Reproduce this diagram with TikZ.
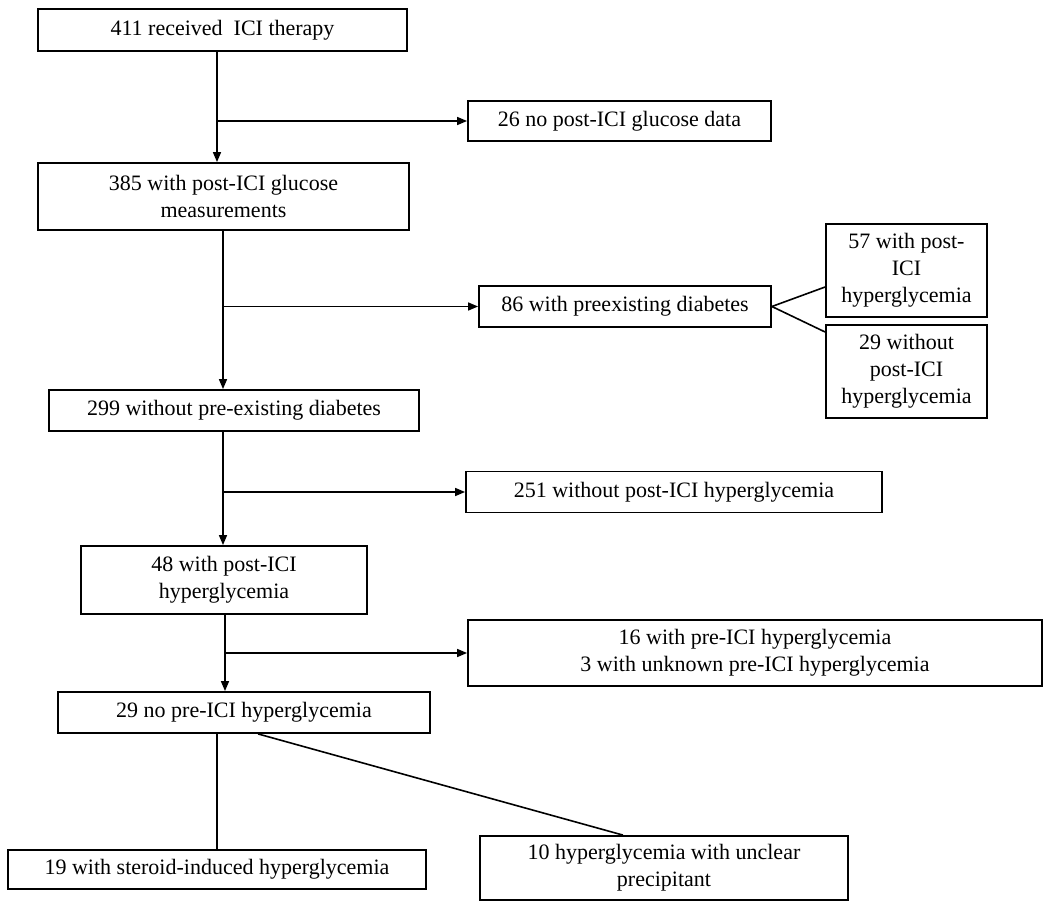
\documentclass[tikz,border=0pt]{standalone}
\usepackage{fontspec}
\setmainfont{Liberation Serif}
\usetikzlibrary{arrows.meta, positioning}

\begin{document}
\begin{tikzpicture}
[x=1pt, y=-1pt,
->/.style={line width=1.6pt, arrows={-Triangle[length=10pt,width=8pt]}},
link/.style={line width=1.6pt},
stepG/.style={shape=rectangle, draw, line width=1.8pt, inner sep=0pt, align=center, font=\fontsize{22}{27}\selectfont},
sideG/.style={stepG}]
\useasboundingbox (0,0) rectangle (1050,907);
\node[stepG, minimum width=369pt, minimum height=42pt] (rec) at (222.5,30) {411 received\ \ ICI therapy};
\node[sideG, minimum width=303pt, minimum height=40pt] (noglu) at (619.5,121) {26 no post-ICI glucose data};
\node[stepG, minimum width=371pt, minimum height=67pt] (meas) at (223.5,196.5) {385 with post-ICI glucose\\measurements};
\node[sideG, minimum width=292pt, minimum height=41pt] (predm) at (625,306.5) {86 with preexisting diabetes};
\node[sideG, minimum width=161pt, minimum height=93pt] (dmhyp) at (906.5,270.5) {57 with post-\\ICI\\hyperglycemia};
\node[sideG, minimum width=161pt, minimum height=93pt] (dmnohyp) at (906.5,371.5) {29 without\\post-ICI\\hyperglycemia};
\node[stepG, minimum width=370pt, minimum height=41pt] (nodm) at (234,410.5) {299 without pre-existing diabetes};
\node[sideG, minimum width=416pt, minimum height=41pt] (nohyp) at (674,492) {251 without post-ICI hyperglycemia};
\node[stepG, minimum width=286pt, minimum height=68pt] (hyp) at (224,580) {48 with post-ICI\\hyperglycemia};
\node[sideG, minimum width=574pt, minimum height=66pt] (prehyp) at (755,653) {16 with pre-ICI hyperglycemia\\3 with unknown pre-ICI hyperglycemia};
\node[stepG, minimum width=372pt, minimum height=41pt] (nopre) at (244,712.5) {29 no pre-ICI hyperglycemia};
\node[stepG, minimum width=418pt, minimum height=39pt] (steroid) at (217,869.5) {19 with steroid-induced hyperglycemia};
\node[sideG, minimum width=368pt, minimum height=64pt] (unclear) at (664,868) {10 hyperglycemia with unclear\\precipitant};
% trunk lines
\coordinate (t1) at (217,0);
\coordinate (t2) at (223,0);
\coordinate (t4) at (225,0);
\draw [->] (rec.south -| t1) -- (meas.north -| t1);
\draw [->] (t1 |- noglu.west) -- (noglu.west);
\draw [->] (meas.south -| t2) -- (nodm.north -| t2);
\draw [->] (t2 |- predm.west) -- (predm.west);
\draw [link] (predm.east) -- ([yshift=-16.5pt]dmhyp.west);
\draw [link] (predm.east) -- ([yshift=39.5pt]dmnohyp.west);
\draw [->] (nodm.south -| t2) -- (hyp.north -| t2);
\draw [->] (t2 |- nohyp.west) -- (nohyp.west);
\draw [->] (hyp.south -| t4) -- (nopre.north -| t4);
\draw [->] (t4 |- prehyp.west) -- (prehyp.west);
\draw [link] (nopre.south -| steroid.north) -- (steroid.north);
\coordinate [right=14pt of nopre.south] (nopreS);
\coordinate [left=41pt of unclear.north] (unclearN);
\draw [link] (nopreS) -- (unclearN);
\end{tikzpicture}
\end{document}
